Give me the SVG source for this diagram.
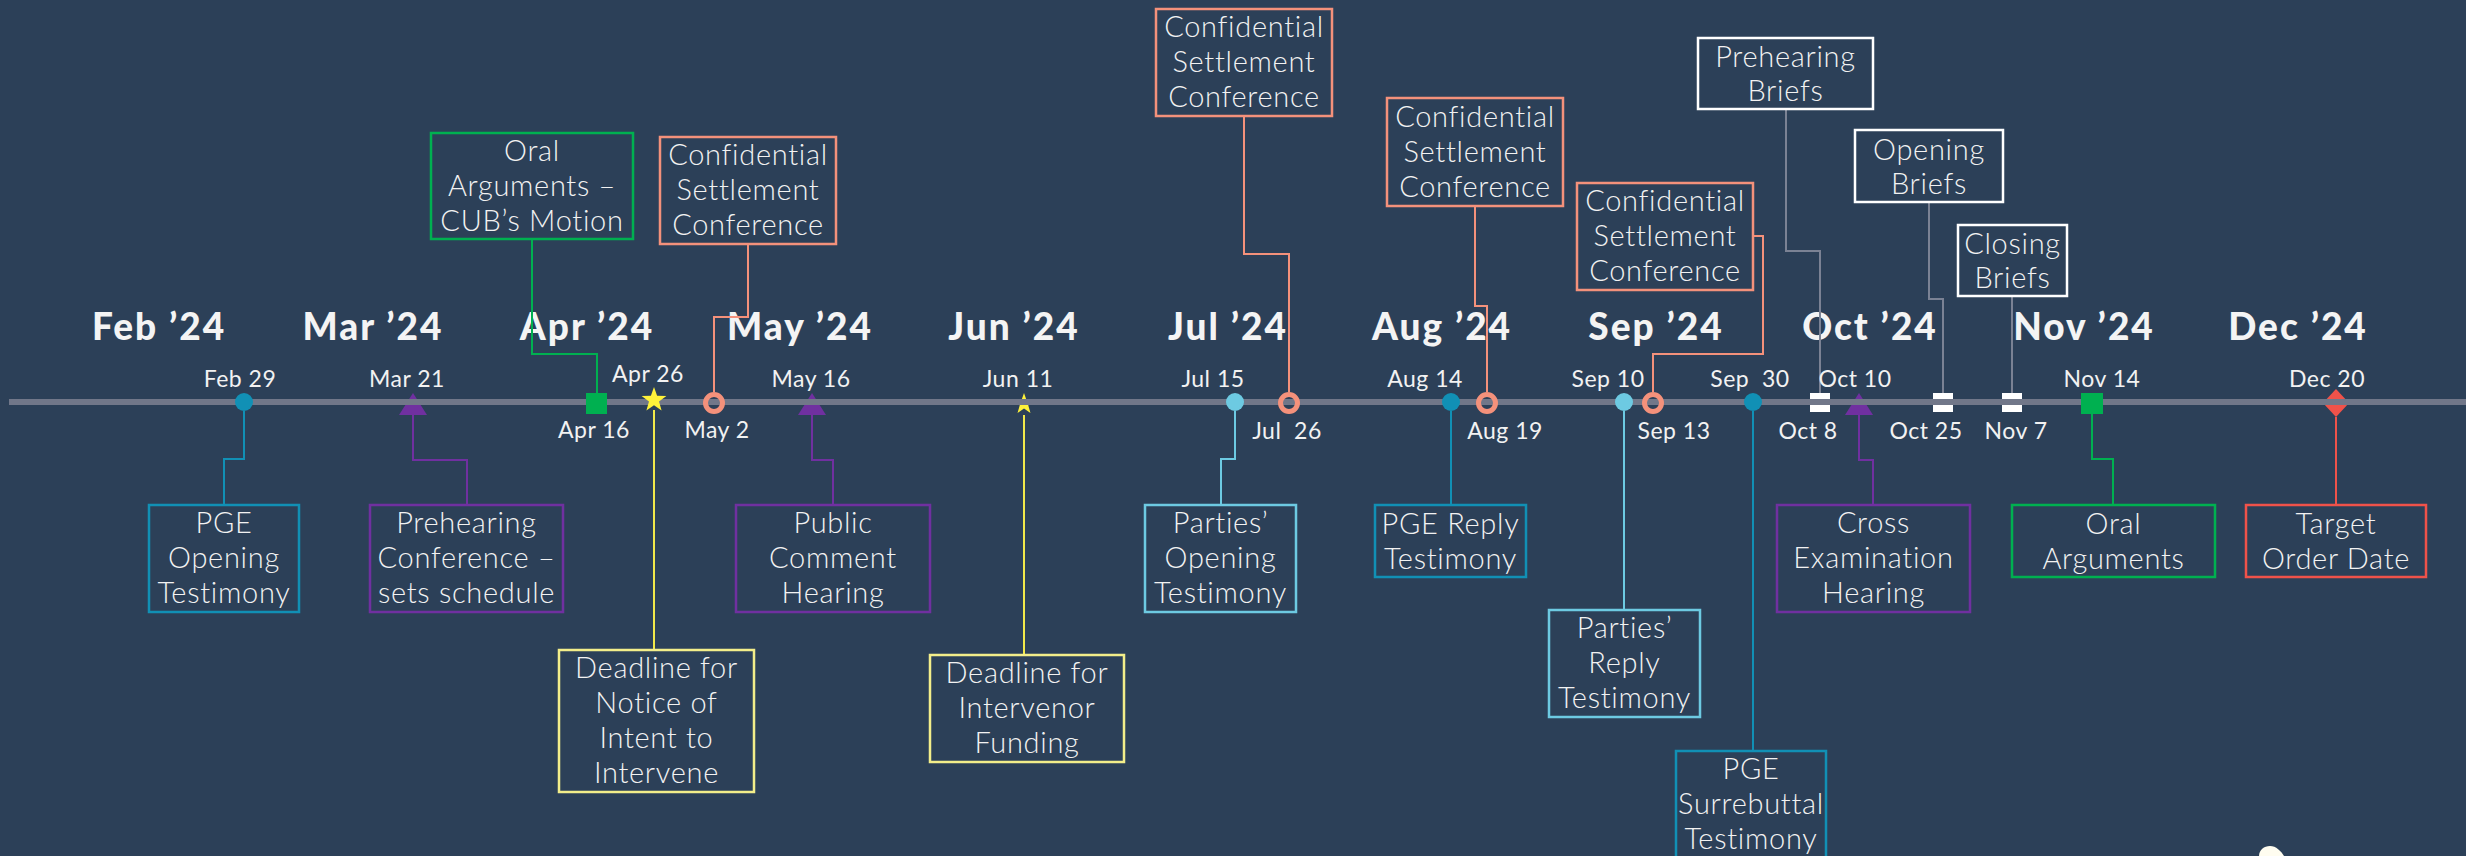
<svg xmlns="http://www.w3.org/2000/svg" width="2466" height="856" viewBox="0 0 2466 856">
<style>
.month{font-family:Lato,"Liberation Sans",sans-serif;font-weight:900;font-size:37px;fill:#F4F4F4;text-anchor:middle;letter-spacing:2px}
.date{font-family:Lato,"Liberation Sans",sans-serif;font-weight:400;font-size:23px;fill:#F2F2F2;text-anchor:middle;letter-spacing:0.5px}
.bt{font-family:Lato,"Liberation Sans",sans-serif;font-weight:300;font-size:29px;fill:#F2F2F2;text-anchor:middle;letter-spacing:0.7px}
.box{fill:#2C4058;stroke-width:2.5}
.conn path{fill:none;stroke-width:2}
.teal{stroke:#1190B5}.lblue{stroke:#6DCAE2}.purple{stroke:#7030A0}.green{stroke:#00B050}
.salmon{stroke:#F4917B}.yellow{stroke:#F3EE8A}.ylw{stroke:#F2E94A}.red{stroke:#F0524A}.white{stroke:#FFFFFF}.gray{stroke:#7B8294}
</style>
<defs>
<polygon id="star" points="0,-13 3.1,-4.2 12.4,-4 5,1.6 7.6,10.5 0,5.2 -7.6,10.5 -5,1.6 -12.4,-4 -3.1,-4.2"/>
<polygon id="tri" points="0,-22 14,0 -14,0"/>
</defs>
<rect x="0" y="0" width="2466" height="856" fill="#2C4058"/>

<g id="months">
<text class="month" x="159" y="340">Feb ’24</text>
<text class="month" x="373" y="340">Mar ’24</text>
<text class="month" x="587" y="340">Apr ’24</text>
<text class="month" x="800" y="340">May ’24</text>
<text class="month" x="1014" y="340">Jun ’24</text>
<text class="month" x="1228" y="340">Jul ’24</text>
<text class="month" x="1442" y="340">Aug ’24</text>
<text class="month" x="1656" y="340">Sep ’24</text>
<text class="month" x="1870" y="340">Oct ’24</text>
<text class="month" x="2084" y="340">Nov ’24</text>
<text class="month" x="2298" y="340">Dec ’24</text>
</g>

<g id="connectors" class="conn">
<path class="teal" d="M244 411V459H224V505"/>
<path class="purple" d="M413 415V460H467V505"/>
<path class="green" d="M532 239V354H597V393"/>
<path class="ylw" d="M654 410V650"/>
<path class="salmon" d="M748 244V317H714V392"/>
<path class="purple" d="M812 415V460H833V505"/>
<path class="ylw" d="M1024 415V655"/>
<path class="salmon" d="M1244 116V254H1289V392"/>
<path class="lblue" d="M1235 411V459H1221V505"/>
<path class="salmon" d="M1475 206V306H1487V392"/>
<path class="teal" d="M1451 411V505"/>
<path class="salmon" d="M1753 236H1763V354H1653V392"/>
<path class="lblue" d="M1624 411V610"/>
<path class="teal" d="M1753 411V751"/>
<path class="gray" d="M1786 109V251H1820V393"/>
<path class="purple" d="M1859 415V460H1873V505"/>
<path class="gray" d="M1929 202V299H1943V393"/>
<path class="gray" d="M2012 296V393"/>
<path class="green" d="M2092 414V459H2113V505"/>
<path class="red" d="M2336 417V505"/>
</g>

<g id="under-markers">
<rect x="1810" y="393" width="20" height="19" fill="#FFFFFF"/>
<rect x="1933" y="393" width="20" height="19" fill="#FFFFFF"/>
<rect x="2002" y="393" width="20" height="19" fill="#FFFFFF"/>
<use href="#tri" x="413" y="415" fill="#7030A0"/>
<use href="#tri" x="812" y="415" fill="#7030A0"/>
<use href="#tri" x="1859" y="415" fill="#7030A0"/>
<polygon points="2336,389 2349,403 2336,417 2323,403" fill="#F0524A"/>
<use href="#star" x="1024" y="404" fill="#FFF23A" transform="translate(1024 404) scale(0.85) translate(-1024 -404)"/>
</g>

<g id="timeline">
<rect x="9" y="399" width="2457" height="6" fill="#717789"/>
</g>

<g id="over-markers">
<circle cx="244" cy="402" r="9" fill="#1190B5"/>
<rect x="586" y="393" width="21" height="21" fill="#00B050"/>
<use href="#star" x="654" y="400" fill="#FFF23A"/>
<circle cx="714" cy="403" r="8.5" fill="none" stroke="#F4917B" stroke-width="5"/>
<circle cx="1235" cy="402" r="9" fill="#6DCAE2"/>
<circle cx="1289" cy="403" r="8.5" fill="none" stroke="#F4917B" stroke-width="5"/>
<circle cx="1451" cy="402" r="9" fill="#1190B5"/>
<circle cx="1487" cy="403" r="8.5" fill="none" stroke="#F4917B" stroke-width="5"/>
<circle cx="1624" cy="402" r="9" fill="#6DCAE2"/>
<circle cx="1653" cy="403" r="8.5" fill="none" stroke="#F4917B" stroke-width="5"/>
<circle cx="1753" cy="402" r="9" fill="#1190B5"/>
<rect x="2081" y="393" width="22" height="21" fill="#00B050"/>
</g>

<g id="dates">
<text class="date" x="240" y="387">Feb 29</text>
<text class="date" x="407" y="387">Mar 21</text>
<text class="date" x="594" y="438">Apr 16</text>
<text class="date" x="648" y="382">Apr 26</text>
<text class="date" x="717" y="438">May 2</text>
<text class="date" x="811" y="387">May 16</text>
<text class="date" x="1018" y="387">Jun 11</text>
<text class="date" x="1213" y="387">Jul 15</text>
<text class="date" x="1287" y="439" xml:space="preserve">Jul  26</text>
<text class="date" x="1425" y="387">Aug 14</text>
<text class="date" x="1505" y="439">Aug 19</text>
<text class="date" x="1608" y="387">Sep 10</text>
<text class="date" x="1674" y="439">Sep 13</text>
<text class="date" x="1750" y="387" xml:space="preserve">Sep  30</text>
<text class="date" x="1808" y="439">Oct 8</text>
<text class="date" x="1855" y="387">Oct 10</text>
<text class="date" x="1926" y="439">Oct 25</text>
<text class="date" x="2016" y="439">Nov 7</text>
<text class="date" x="2102" y="387">Nov 14</text>
<text class="date" x="2327" y="387">Dec 20</text>
</g>

<g id="pge-opening">
<rect class="box teal" x="149" y="505" width="150" height="107"/>
<text class="bt" x="224" y="533">PGE</text><text class="bt" x="224" y="568">Opening</text><text class="bt" x="224" y="603">Testimony</text>
</g>
<g id="prehearing-conference">
<rect class="box purple" x="370" y="505" width="193" height="107"/>
<text class="bt" x="466.5" y="533">Prehearing</text><text class="bt" x="466.5" y="568">Conference –</text><text class="bt" x="466.5" y="603">sets schedule</text>
</g>
<g id="oral-cub">
<rect class="box green" x="431" y="133" width="202" height="106"/>
<text class="bt" x="532" y="161">Oral</text><text class="bt" x="532" y="196">Arguments –</text><text class="bt" x="532" y="231">CUB’s Motion</text>
</g>
<g id="deadline-notice">
<rect class="box yellow" x="559" y="650" width="195" height="142"/>
<text class="bt" x="656.5" y="678">Deadline for</text><text class="bt" x="656.5" y="713">Notice of</text><text class="bt" x="656.5" y="748">Intent to</text><text class="bt" x="656.5" y="783">Intervene</text>
</g>
<g id="csc-may">
<rect class="box salmon" x="660" y="137" width="176" height="107"/>
<text class="bt" x="748" y="165">Confidential</text><text class="bt" x="748" y="200">Settlement</text><text class="bt" x="748" y="235">Conference</text>
</g>
<g id="public-comment">
<rect class="box purple" x="736" y="505" width="194" height="107"/>
<text class="bt" x="833" y="533">Public</text><text class="bt" x="833" y="568">Comment</text><text class="bt" x="833" y="603">Hearing</text>
</g>
<g id="deadline-funding">
<rect class="box yellow" x="930" y="655" width="194" height="107"/>
<text class="bt" x="1027" y="683">Deadline for</text><text class="bt" x="1027" y="718">Intervenor</text><text class="bt" x="1027" y="753">Funding</text>
</g>
<g id="csc-jul">
<rect class="box salmon" x="1156" y="9" width="176" height="107"/>
<text class="bt" x="1244" y="37">Confidential</text><text class="bt" x="1244" y="72">Settlement</text><text class="bt" x="1244" y="107">Conference</text>
</g>
<g id="parties-opening">
<rect class="box lblue" x="1145" y="505" width="151" height="107"/>
<text class="bt" x="1220.5" y="533">Parties’</text><text class="bt" x="1220.5" y="568">Opening</text><text class="bt" x="1220.5" y="603">Testimony</text>
</g>
<g id="csc-aug">
<rect class="box salmon" x="1387" y="98" width="176" height="108"/>
<text class="bt" x="1475" y="127">Confidential</text><text class="bt" x="1475" y="162">Settlement</text><text class="bt" x="1475" y="197">Conference</text>
</g>
<g id="pge-reply">
<rect class="box teal" x="1375" y="505" width="151" height="72"/>
<text class="bt" x="1450.5" y="534">PGE Reply</text><text class="bt" x="1450.5" y="569">Testimony</text>
</g>
<g id="csc-sep">
<rect class="box salmon" x="1577" y="183" width="176" height="107"/>
<text class="bt" x="1665" y="211">Confidential</text><text class="bt" x="1665" y="246">Settlement</text><text class="bt" x="1665" y="281">Conference</text>
</g>
<g id="parties-reply">
<rect class="box lblue" x="1549" y="610" width="151" height="107"/>
<text class="bt" x="1624.5" y="638">Parties’</text><text class="bt" x="1624.5" y="673">Reply</text><text class="bt" x="1624.5" y="708">Testimony</text>
</g>
<g id="pge-surrebuttal">
<rect class="box teal" x="1676" y="751" width="150" height="107"/>
<text class="bt" x="1751" y="779">PGE</text><text class="bt" x="1751" y="814">Surrebuttal</text><text class="bt" x="1751" y="849">Testimony</text>
</g>
<g id="prehearing-briefs">
<rect class="box white" x="1698" y="38" width="175" height="71"/>
<text class="bt" x="1785.5" y="67">Prehearing</text><text class="bt" x="1785.5" y="101">Briefs</text>
</g>
<g id="cross-exam">
<rect class="box purple" x="1777" y="505" width="193" height="107"/>
<text class="bt" x="1873.5" y="533">Cross</text><text class="bt" x="1873.5" y="568">Examination</text><text class="bt" x="1873.5" y="603">Hearing</text>
</g>
<g id="opening-briefs">
<rect class="box white" x="1855" y="130" width="148" height="72"/>
<text class="bt" x="1929" y="160">Opening</text><text class="bt" x="1929" y="194">Briefs</text>
</g>
<g id="closing-briefs">
<rect class="box white" x="1958" y="225" width="109" height="71"/>
<text class="bt" x="2012.5" y="254">Closing</text><text class="bt" x="2012.5" y="288">Briefs</text>
</g>
<g id="oral-arguments">
<rect class="box green" x="2012" y="505" width="203" height="72"/>
<text class="bt" x="2113.5" y="534">Oral</text><text class="bt" x="2113.5" y="569">Arguments</text>
</g>
<g id="target-order">
<rect class="box red" x="2246" y="505" width="180" height="72"/>
<text class="bt" x="2336" y="534">Target</text><text class="bt" x="2336" y="569">Order Date</text>
</g>

<path d="M2259 856C2259 850 2264 846 2270 846C2276 846 2281 851 2284 856Z" fill="#FFFDF0"/>
</svg>
